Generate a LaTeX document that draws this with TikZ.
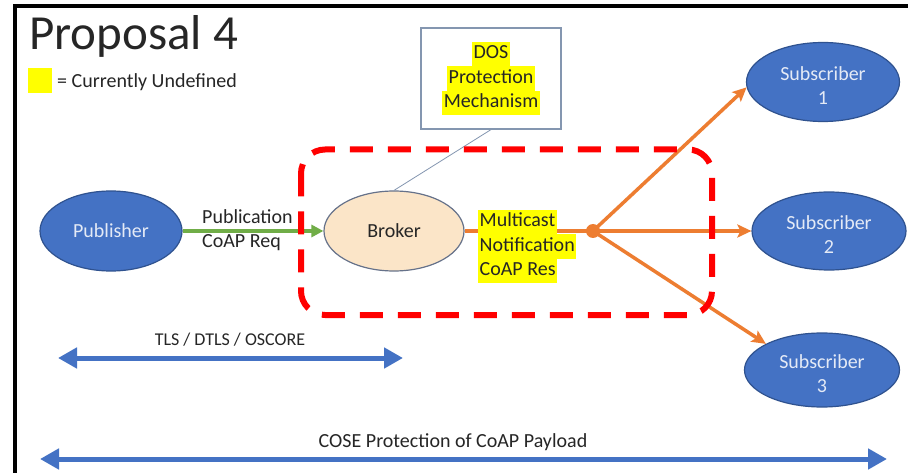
\documentclass[tikz,border=0pt]{standalone}
\usepackage{fontspec}
\setmainfont{Carlito}
\usetikzlibrary{arrows.meta,shapes.geometric}
\definecolor{pubblue}{HTML}{4472C4}
\definecolor{blueedge}{HTML}{2F528F}
\definecolor{ltxt}{HTML}{E4EAF6}
\definecolor{orng}{HTML}{ED7D31}
\definecolor{grn}{HTML}{70AD47}
\definecolor{beige}{HTML}{FBE5C8}
\definecolor{gedge}{HTML}{66728A}
\definecolor{boxedge}{HTML}{8496B0}
\definecolor{txt}{HTML}{262626}
\definecolor{hlyellow}{HTML}{FFFF00}
\definecolor{dashred}{HTML}{FF0000}
\newcommand{\hly}[1]{{\setlength{\fboxsep}{0pt}\colorbox{hlyellow}{\hspace{1.5pt}\strut #1\hspace{1.5pt}}}}
\newcommand{\subtext}[1]{\rule{0pt}{22pt}Subscriber\\#1}
\begin{document}
\begin{tikzpicture}[x=1pt,y=-1pt,
  txtstyle/.style={text=txt,font=\fontsize{20}{24.5}\selectfont,inner sep=0pt},
  blueell/.style={ellipse,draw=blueedge,line width=1.2pt,fill=pubblue,text=ltxt,
    font=\fontsize{20}{24}\selectfont,inner sep=0pt,align=center},
  brokerell/.style={ellipse,draw=gedge,line width=1.2pt,fill=beige,text=txt,
    font=\fontsize{20}{24}\selectfont,inner sep=0pt},
  dosbox/.style={draw=boxedge,line width=1.2pt,fill=white,text=txt,align=center,
    font=\fontsize{20}{24.5}\selectfont,inner sep=0pt,minimum width=140pt,minimum height=101pt},
  orangearrow/.style={orng,line width=3.5pt,-{Stealth[length=14pt,width=13pt,inset=3pt]}},
  greenarrow/.style={grn,line width=3.5pt,-{Triangle[length=12pt,width=12pt]}},
  bluearrow/.style={pubblue,line width=5pt,{Triangle[length=19pt,width=20pt]}-{Triangle[length=19pt,width=20pt]}},
  reddash/.style={dashred,line width=6pt,dash pattern=on 23pt off 15pt,rounded corners=24pt}
]
\useasboundingbox (0,0) rectangle (908,473);
\fill[white] (0,0) rectangle (908,473);

% frame
\draw[line width=4.5pt,line join=miter] (15,475) -- (15,6) -- (912,6);

% title and legend
\node[txtstyle,font=\fontsize{49}{52}\selectfont,anchor=base west] (title) at (29,50) {Proposal 4};
\node[fill=hlyellow,minimum width=24pt,minimum height=25pt,inner sep=0pt] (legendbox) at (40,80.5) {};
\node[txtstyle,anchor=base west] (legendtext) at (57,88) {= Currently Undefined};

% nodes
\node[blueell,minimum width=142pt,minimum height=80pt] (pub) at (111,231) {Publisher};
\node[brokerell,minimum width=140pt,minimum height=80pt] (broker) at (394,231) {Broker};
\node[dosbox] (dos) at (491,78.5) {\hly{DOS}\\\hly{Protection}\\\hly{Mechanism}};
\node[blueell,minimum width=153pt,minimum height=79pt] (s1) at (823,82) {\subtext{1}};
\node[blueell,minimum width=154pt,minimum height=78pt] (s2) at (829,231) {\subtext{2}};
\node[blueell,minimum width=155pt,minimum height=74pt] (s3) at (822,370) {\subtext{3}};
\node[circle,fill=orng,inner sep=0pt,minimum size=14pt] (hub) at (593,231) {};

% connectors
\draw[boxedge,line width=0.8pt] (dos.south) -- (broker.north);
\draw[greenarrow] (pub.east) -- (broker.west);
\node[txtstyle,align=left,anchor=west] (publabel) at (202,230) {Publication\\CoAP Req};
\draw[orng,line width=3.5pt] (broker.east) -- (hub.center);
\draw[orangearrow] (hub.center) -- (s1.184);
\draw[orangearrow] (hub.center) -- (s2.west);
\draw[orangearrow] (hub.center) -- (s3.155);
\node[txtstyle,align=left,anchor=west] (mclabel) at (478,246.5) {\hly{Multicast}\\\hly{Notification}\\\hly{CoAP Res}};

% red dashed region
\draw[reddash] (301,149.5) rectangle (712,315);

% protection spans
\coordinate (tlsL) at (58,358);
\coordinate (tlsR) at (403,358);
\draw[bluearrow] (tlsL) -- (tlsR);
\node[txtstyle,font=\fontsize{18}{22}\selectfont,anchor=base] (tlslabel) at (230,345) {TLS / DTLS / OSCORE};
\coordinate (coseL) at (40,459);
\coordinate (coseR) at (887,459);
\draw[bluearrow] (coseL) -- (coseR);
\node[txtstyle,font=\fontsize{20}{24}\selectfont,anchor=base] (coselabel) at (453,447) {COSE Protection of CoAP Payload};
\end{tikzpicture}
\end{document}
